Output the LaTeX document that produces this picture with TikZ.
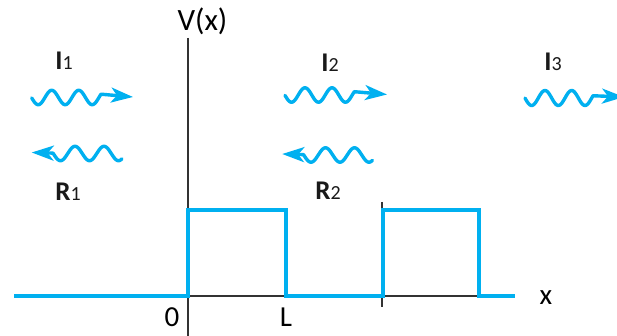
\documentclass[tikz,border=0pt]{standalone}
\usepackage{fontspec}
\setmainfont{Carlito}
\usetikzlibrary{arrows.meta}
\definecolor{wblue}{RGB}{0,176,240}
\tikzset{
  wave/.style={draw=wblue, line width=3.4pt, line cap=round, line join=round},
  barrier/.style={draw=wblue, line width=3.2pt},
  axisline/.style={draw=black!80, line width=1.4pt},
  wlabel/.style={font=\fontsize{27}{30}\selectfont, text=black!90, inner sep=0pt},
  alabel/.style={font=\fontsize{29}{33}\selectfont, text=black, inner sep=0pt},
  wtip/.style={-{Stealth[length=22pt,width=15pt,inset=6pt]}},
  wtipb/.style={{Stealth[length=22pt,width=15pt,inset=6pt]}-}
}
\newcommand{\lab}[2]{\textbf{#1}{\fontsize{20}{21}\selectfont #2}}
\begin{document}
\begin{tikzpicture}[x=1pt,y=-1pt]
\clip (0,0) rectangle (617,336);
\fill[white] (0,0) rectangle (617,336);
% axes
\draw[axisline] (188,38) -- (188,336);
\draw[axisline] (188,296) -- (286,296);
\draw[axisline] (382,296) -- (480,296);
\draw[axisline] (382,202) -- (382,307);
% potential
\draw[barrier] (14,296) -- (188,296) -- (188,210) -- (286,210) -- (286,296) -- (383,296) -- (383,210) -- (479,210) -- (479,296) -- (515,296);
% labels
\node[alabel, font=\fontsize{31}{35}\selectfont] (vx) at (202.5,21) {V(x)};
\node[alabel] (zero) at (172,317) {0};
\node[alabel] (ell) at (286,317) {L};
\node[alabel] (xl) at (546,298) {x};
\node[wlabel] (i1) at (64,61) {\lab{I}{1}};
\node[wlabel] (r1) at (68,192) {\lab{R}{1}};
\node[wlabel] (i2) at (330,63) {\lab{I}{2}};
\node[wlabel] (r2) at (328,191) {\lab{R}{2}};
\node[wlabel] (i3) at (553,62) {\lab{I}{3}};
% waves
% I1
\draw[wave,wtip] plot[domain=31.7:101,samples=80,smooth] (\x,{97.5-7.2*sin(13.333*(\x-44.95))}) -- (133,97);
% R1
\draw[wave,wtipb] (31.7,152.5) -- plot[domain=53:122,samples=80,smooth] (\x,{153.5-7.2*sin(12.414*(\x-67.75))});
% I2
\draw[wave,wtip] plot[domain=285:354.3,samples=80,smooth] (\x,{95-7.2*sin(13.333*(\x-298.25))}) -- (387,94.5);
% R2
\draw[wave,wtipb] (282.2,154) -- plot[domain=303.5:372.5,samples=80,smooth] (\x,{155-7.2*sin(12.414*(\x-318.25))});
% I3
\draw[wave,wtip] plot[domain=525:593,samples=80,smooth] (\x,{98-7.5*sin(13.483*(\x-538.3))}) -- (624,97);
\end{tikzpicture}
\end{document}
